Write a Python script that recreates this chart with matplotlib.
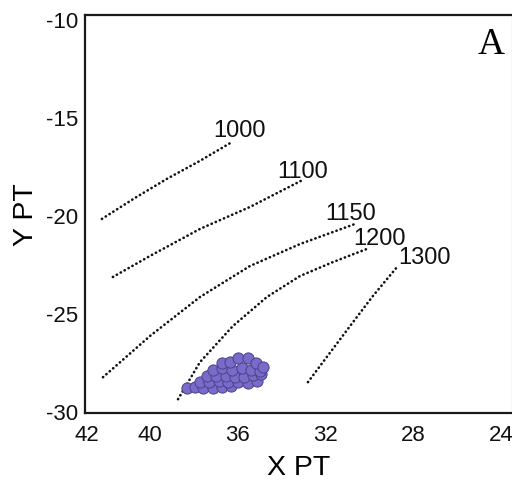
import matplotlib.pyplot as plt
import numpy as np

plt.rcParams['font.family'] = ['Liberation Sans', 'DejaVu Sans']
plt.rcParams['axes.unicode_minus'] = False

# isotherm traces (x, y) for each temperature
iso_temps = ['1000', '1100', '1150', '1200', '1300']
iso_x = [
    [42.19, 40.68, 39.23, 37.72, 36.26],
    [41.69, 40.00, 37.72, 35.44, 33.03],
    [42.14, 40.00, 37.72, 35.44, 33.16, 30.66],
    [38.72, 37.72, 36.22, 34.67, 33.16, 31.66, 30.11],
    [32.80, 30.88, 29.84, 28.70],
]
iso_y = [
    [-20.20, -19.13, -18.16, -17.24, -16.28],
    [-23.16, -22.09, -20.71, -19.59, -18.21],
    [-28.27, -26.17, -24.18, -22.60, -21.48, -20.46],
    [-29.39, -27.50, -25.66, -24.18, -23.11, -22.40, -21.73],
    [-28.52, -25.66, -24.13, -22.60],
]

# samples
sample_x = [38.33, 37.95, 37.57, 37.14, 36.73, 36.32,
            37.72, 37.30, 36.84, 36.43, 35.97, 35.55, 35.14,
            37.42, 36.99, 36.54, 36.13, 35.72, 35.32, 34.94,
            37.11, 36.70, 36.28, 35.82, 35.41, 34.99,
            36.73, 36.35, 35.97, 35.55, 35.17, 34.87]
sample_y = [-28.84, -28.76, -28.84, -28.83, -28.79, -28.71,
            -28.49, -28.50, -28.45, -28.49, -28.49, -28.54, -28.45,
            -28.20, -28.20, -28.20, -28.25, -28.25, -28.16, -28.11,
            -27.89, -27.82, -27.91, -27.81, -27.89, -27.94,
            -27.55, -27.47, -27.30, -27.31, -27.52, -27.74]

xtick_pos = [42.87, 40, 36, 32, 28, 24]
xtick_labels = ['42', '40', '36', '32', '28', '24']
ytick_vals = [-10, -15, -20, -25, -30]

# where each isotherm label sits
label_pos = [(35.94, -15.66), (33.03, -17.76), (30.84, -19.90),
             (29.56, -21.17), (27.51, -22.14)]

fig = plt.figure(figsize=(5.12, 4.81), dpi=100)
ax = fig.add_axes([0.166, 0.139, 0.834, 0.828])

for xs, ys in zip(iso_x, iso_y):
    ax.plot(xs, ys, color='#111111', lw=1.9, linestyle=(0, (0.1, 1.6)),
            dash_capstyle='round', solid_joinstyle='round')

for t, (lx, ly) in zip(iso_temps, label_pos):
    ax.text(lx, ly, t, fontsize=17, ha='center', va='center', color='#111111')

ax.scatter(sample_x, sample_y, s=65, facecolor='#786bc9', edgecolor='#4b4288',
           linewidth=0.7, zorder=3)

ax.text(24.46, -11.25, 'A', fontsize=27, family='Liberation Serif',
        ha='center', va='center')

ax.set_xlim(42.96, 23.5)
ax.set_ylim(-30.1, -9.8)
ax.set_xticks(xtick_pos)
ax.set_xticklabels(xtick_labels)
ax.set_yticks(ytick_vals)
ax.tick_params(length=0, labelsize=16, colors='#111111')
ax.tick_params(axis='x', pad=8)
ax.tick_params(axis='y', pad=5)

for side in ['left', 'top', 'bottom']:
    ax.spines[side].set_linewidth(1.6)
    ax.spines[side].set_color('#1a1a1a')
ax.spines['right'].set_color('#e2e2e2')
ax.spines['right'].set_linewidth(1)

ax.set_xlabel('X PT', fontsize=20.5, labelpad=6)
ax.set_ylabel('Y PT', fontsize=20.5, labelpad=5)

plt.savefig('out.png', dpi=100)
plt.close()
